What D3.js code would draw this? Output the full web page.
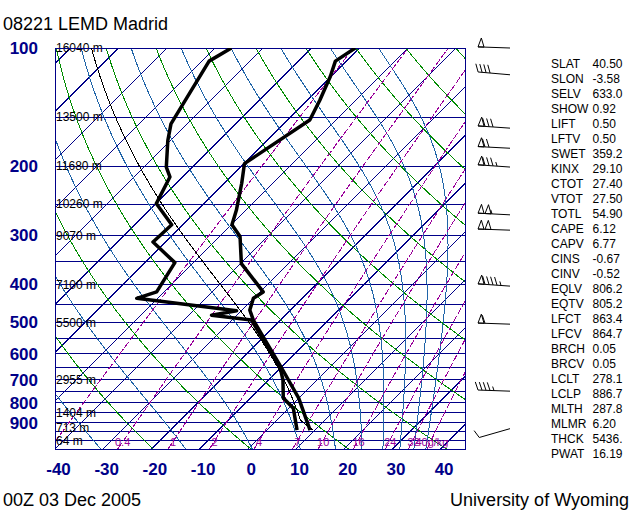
<!DOCTYPE html>
<html>
<head>
<meta charset="utf-8">
<script src="https://cdn.jsdelivr.net/npm/d3@7"></script>
<style>
body { margin: 0; background: #fff; }
svg { display: block; font-family: "Liberation Sans", Arial, sans-serif; }
</style>
</head>
<body>
<script>
var width = 640, height = 512;
var plotL = 55, plotR = 465, plotT = 48, plotB = 449;

// sounding: temperature
var tempPres = [940, 779, 654, 493, 465, 434, 418, 354, 302, 282, 259, 221, 197, 152.5, 136, 118, 108, 100];
var tempVals = [9.0, 0.0, -9.7, -25.6, -28.4, -30.1, -29.4, -39.8, -45.7, -49.8, -51.9, -56.4, -59.9, -55.4, -57.4, -60.2, -62.3, -60.9];
// sounding: dew point
var dewPres = [940, 827, 779, 701, 654, 493, 479, 467, 434, 418, 352, 312, 282, 249, 213, 201, 172, 156, 108, 100];
var dewVals = [6.3, 1.0, -3.2, -7.0, -10.0, -26.0, -35.3, -31.0, -54.3, -51.5, -53.8, -62.6, -62.3, -69.9, -72.6, -75.4, -80.6, -83.4, -88.5, -86.6];

// winds (knots)
var windPres = [100, 117, 160, 180, 201, 266, 291, 404, 505, 748, 932];
var windDir = [272, 275, 274, 273, 274, 273, 272, 274, 272, 272, 254];
var windSpd = [50, 40, 80, 70, 85, 105, 100, 95, 60, 45, 10];

// background lines
var isobars = d3.range(100, 1051, 50);
var isotherms = d3.range(-130, 41, 10);
var dryThetas = d3.range(190, 520, 20);
var moistThetas = d3.range(240, 421, 20);
var mixRatios = [0.1, 0.4, 1, 2, 4, 7, 10, 16, 24, 32, 40];
var mixLabels = ["", "0.4", "1", "2", "4", "7", "10", "16", "24", "32", "40g/kg"];

// axis labels
var presTicks = [100, 200, 300, 400, 500, 600, 700, 800, 900];
var tempTicks = [-40, -30, -20, -10, 0, 10, 20, 30, 40];
var hgtPres = [100, 150, 200, 250, 300, 400, 500, 700, 850, 925, 1000];
var hgtLabels = ["16040 m", "13500 m", "11680 m", "10260 m", "9070 m", "7100 m", "5500 m", "2955 m", "1404 m", "713 m", "64 m"];

// station indices
var statNames = ["SLAT", "SLON", "SELV", "SHOW", "LIFT", "LFTV", "SWET", "KINX", "CTOT", "VTOT", "TOTL", "CAPE", "CAPV", "CINS", "CINV", "EQLV", "EQTV", "LFCT", "LFCV", "BRCH", "BRCV", "LCLT", "LCLP", "MLTH", "MLMR", "THCK", "PWAT"];
var statVals = ["40.50", "-3.58", "633.0", "0.92", "0.50", "0.50", "359.2", "29.10", "27.40", "27.50", "54.90", "6.12", "6.77", "-0.67", "-0.52", "806.2", "805.2", "863.4", "864.7", "0.05", "0.05", "278.1", "886.7", "287.8", "6.20", "5436.", "16.19"];
var parcelTheta = 287.8, lclPres = 886.7;

var navy = "#000088", green = "#008c00", steel = "#1f64a8", purple = "#9a009a";

var y = d3.scaleLog().domain([1050, 100]).range([plotB, plotT]);
var xT = d3.scaleLinear().domain([-40, 45]).range([plotL, plotL + 85 * 4.82]);
function sx(T, p) { return xT(T) + (plotB - y(p)); }

function es(T) { return 6.112 * Math.exp(17.67 * T / (T + 243.5)); }
function thetaE(T, p) {
  var Tk = T + 273.15, e = es(T);
  var r = 0.622 * e / Math.max(p - e, 1e-6);
  return Tk * Math.pow(1000 / p, 0.2857) * Math.exp(2.5e6 * r / (1004 * Tk));
}
function moistT(te, p) {
  var lo = -160, hi = 60;
  for (var i = 0; i < 50; i++) {
    var mid = (lo + hi) / 2;
    if (thetaE(mid, p) > te) hi = mid; else lo = mid;
  }
  return (lo + hi) / 2;
}
function dryT(th, p) { return th * Math.pow(p / 1000, 0.2857) - 273.15; }
function mixT(w, p) {
  var e = w * p / (622 + w), l = Math.log(e / 6.112);
  return 243.5 * l / (17.67 - l);
}

var levels = d3.range(1050, 99, -5);

var svg = d3.select("body").append("svg")
  .attr("width", width).attr("height", height);

svg.append("clipPath").attr("id", "plot")
  .append("rect").attr("x", plotL).attr("y", plotT)
  .attr("width", plotR - plotL).attr("height", plotB - plotT);

var grid = svg.append("g").attr("clip-path", "url(#plot)")
  .attr("fill", "none").attr("shape-rendering", "crispEdges");

var line = d3.line().x(d => d[0]).y(d => d[1]);

grid.selectAll(".isobar").data(isobars).enter().append("line")
  .attr("x1", plotL).attr("x2", plotR)
  .attr("y1", d => y(d)).attr("y2", d => y(d))
  .attr("stroke", navy);

grid.selectAll(".isotherm").data(isotherms).enter().append("line")
  .attr("x1", d => sx(d, 1050)).attr("y1", y(1050))
  .attr("x2", d => sx(d, 100)).attr("y2", y(100))
  .attr("stroke", navy);

grid.selectAll(".dry").data(dryThetas).enter().append("path")
  .attr("d", th => line(levels.map(p => [sx(dryT(th, p), p), y(p)])))
  .attr("stroke", green);

grid.selectAll(".moist").data(moistThetas).enter().append("path")
  .attr("d", te => line(levels.map(p => [sx(moistT(te, p), p), y(p)])))
  .attr("stroke", steel);

grid.selectAll(".mix").data(mixRatios).enter().append("path")
  .attr("d", w => line(levels.map(p => [sx(mixT(w, p), p), y(p)])))
  .attr("stroke", purple).attr("stroke-dasharray", "7,2");

// mixing ratio labels
svg.append("g").selectAll("text").data(mixRatios).enter().append("text")
  .attr("x", w => sx(mixT(w, 1050), 1050) + 5)
  .attr("y", 446)
  .attr("text-anchor", "middle")
  .attr("font-size", 11).attr("fill", purple)
  .text((w, i) => mixLabels[i]);

// height labels
svg.append("g").selectAll("text").data(hgtPres).enter().append("text")
  .attr("x", plotL + 1).attr("y", d => y(d)).attr("dy", "0.35em")
  .attr("font-size", 12).attr("fill", "#000")
  .text((d, i) => hgtLabels[i]);

// frame
svg.append("rect").attr("x", plotL).attr("y", plotT)
  .attr("width", plotR - plotL).attr("height", plotB - plotT)
  .attr("fill", "none").attr("stroke", navy).attr("shape-rendering", "crispEdges");

// parcel path
var parcel = [];
var parcelTE = thetaE(dryT(parcelTheta, lclPres), lclPres);
levels.filter(p => p <= 940).forEach(function (p) {
  var T = p >= lclPres ? dryT(parcelTheta, p) : moistT(parcelTE, p);
  parcel.push([sx(T, p), y(p)]);
});
var prof = svg.append("g").attr("clip-path", "url(#plot)").attr("fill", "none");
prof.append("path").attr("d", line(parcel)).attr("stroke", "#000")
  .attr("stroke-width", 1).attr("shape-rendering", "crispEdges");

prof.append("path")
  .attr("d", line(dewPres.map((p, i) => [sx(dewVals[i], p), y(p)])))
  .attr("stroke", "#000").attr("stroke-width", 3.5).attr("stroke-linejoin", "round");
prof.append("path")
  .attr("d", line(tempPres.map((p, i) => [sx(tempVals[i], p), y(p)])))
  .attr("stroke", "#000").attr("stroke-width", 3.5).attr("stroke-linejoin", "round");

// axes
var yAxis = svg.append("g").attr("transform", "translate(" + plotL + ",0)")
  .call(d3.axisLeft(y).tickValues(presTicks).tickFormat(d3.format("d")).tickSize(0).tickPadding(17));
var xAxis = svg.append("g").attr("transform", "translate(3," + plotB + ")")
  .call(d3.axisBottom(xT).tickValues(tempTicks).tickFormat(d => String(d)).tickSize(0).tickPadding(14));
[yAxis, xAxis].forEach(function (a) {
  a.select(".domain").remove();
  a.selectAll("text").attr("font-size", 17).attr("font-weight", "bold")
    .attr("fill", navy).attr("font-family", "Liberation Sans, Arial, sans-serif");
});

// wind barbs
function barb(g, x0, y0, dir, spd) {
  var a = dir * Math.PI / 180;
  var ux = Math.sin(a), uy = -Math.cos(a), nx = -uy, ny = ux;
  var L = 32;
  function P(s) { return [x0 + ux * s, y0 + uy * s]; }
  g.append("path").attr("d", line([P(0), P(L)]));
  var s = L;
  var pen = Math.floor(spd / 50), rest = spd % 50;
  var full = Math.floor(rest / 10), half = rest % 10 >= 5;
  for (var i = 0; i < pen; i++) {
    var b1 = P(s), b2 = P(s - 6), m = P(s - 3);
    g.append("path").attr("d", line([b1, [m[0] + nx * 9, m[1] + ny * 9], b2]) + "Z");
    s -= 7;
  }
  for (var j = 0; j < full; j++) {
    var q = P(s);
    g.append("path").attr("d", line([q, [q[0] + ux * 3 + nx * 8, q[1] + uy * 3 + ny * 8]]));
    s -= 4;
  }
  if (half) {
    var h = P(s);
    g.append("path").attr("d", line([h, [h[0] + ux * 1.5 + nx * 4, h[1] + uy * 1.5 + ny * 4]]));
  }
}
var barbs = svg.append("g").attr("fill", "none").attr("stroke", "#000").attr("stroke-width", 1);
windPres.forEach(function (p, i) {
  barb(barbs, 510, y(p), windDir[i], windSpd[i]);
});

// station indices
var stats = svg.append("g").attr("font-size", 12).attr("fill", "#000");
statNames.forEach(function (n, i) {
  stats.append("text").attr("x", 551).attr("y", 63.3 + i * 15).attr("dy", "0.35em").text(n);
  stats.append("text").attr("x", 592.5).attr("y", 63.3 + i * 15).attr("dy", "0.35em").text(statVals[i]);
});

// titles
svg.append("text").attr("x", 3).attr("y", 30).attr("font-size", 18).text("08221 LEMD Madrid");
svg.append("text").attr("x", 3).attr("y", 506).attr("font-size", 18).text("00Z 03 Dec 2005");
svg.append("text").attr("x", 629).attr("y", 506).attr("font-size", 18)
  .attr("text-anchor", "end").text("University of Wyoming");
</script>
</body>
</html>
